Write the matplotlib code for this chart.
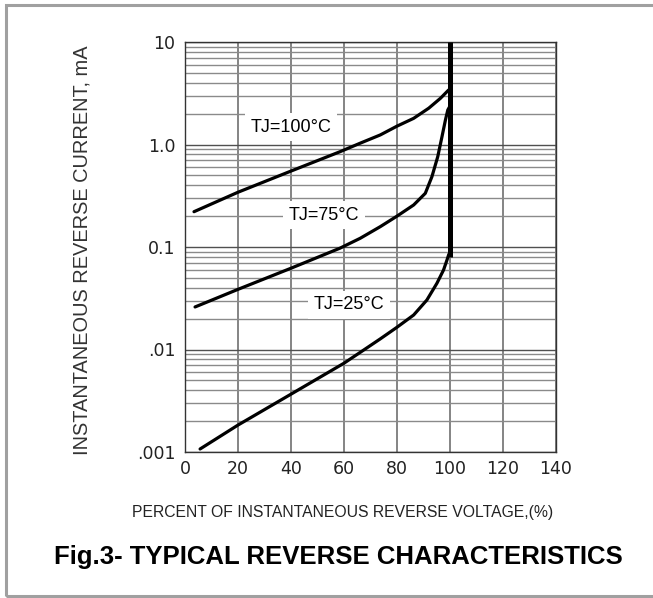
import matplotlib
matplotlib.use('Agg')
import matplotlib.pyplot as plt
from matplotlib.patches import Rectangle

# curves (percent of VR, reverse current in mA)
x_100 = [3.4, 20, 40, 58.6, 66.2, 73.8, 80.1, 86.4, 92.1, 96.5, 99.6]
i_100 = [0.221, 0.342, 0.55, 0.851, 1.03, 1.24, 1.51, 1.80, 2.26, 2.82, 3.4]

x_75 = [3.8, 20, 40, 58.6, 66.2, 73.8, 80.1, 86.4, 90.8, 93.3, 95.5, 97.1, 98.4, 99.3, 100]
i_75 = [0.026, 0.0386, 0.062, 0.0975, 0.1216, 0.158, 0.20, 0.257, 0.334, 0.485,
        0.76, 1.19, 1.73, 2.17, 2.34]

x_25 = [5.7, 20, 40, 60, 66.8, 73.8, 80.1, 86.4, 91.4, 95.2, 97.7, 99.0, 99.7]
i_25 = [0.00107, 0.00183, 0.00366, 0.00733, 0.0096, 0.0127, 0.01648, 0.0217,
        0.0304, 0.0443, 0.0597, 0.0747, 0.085]

# breakdown line at 100 %
x_bd = [100, 100]
i_bd = [0.08, 10]

x_ticks = [0, 20, 40, 60, 80, 100, 120, 140]
y_ticks = [0.001, 0.01, 0.1, 1, 10]
y_ticklabels = ['.001', '.01', '0.1', '1.0', '10']

labels = ['TJ=100°C', 'TJ=75°C', 'TJ=25°C']
label_pos = [(40.0, 1.48), (52.5, 0.205), (62.0, 0.0272)]

fig = plt.figure(figsize=(6.53, 5.98), dpi=100)
ax = fig.add_axes([185 / 653, 146 / 598, 370.5 / 653, 410 / 598])

ax.set_yscale('log')
ax.set_xlim(0, 140)
ax.set_ylim(0.001, 10)

# grid
ax.set_xticks(x_ticks)
ax.set_yticks(y_ticks)
ax.set_yticklabels(y_ticklabels)
ax.grid(True, which='major', axis='x', color='#707070', lw=1.2)
ax.grid(True, which='major', axis='y', color='#505050', lw=1.0)
ax.grid(True, which='minor', axis='y', color='#8a8a8a', lw=1.0)
ax.tick_params(which='both', length=0)
ax.tick_params(axis='x', pad=6, labelsize=12.5, labelcolor='#222222')
ax.tick_params(axis='y', pad=7, labelsize=12.5, labelcolor='#222222')
for lab in ax.get_xticklabels() + ax.get_yticklabels():
    lab.set_family('DejaVu Sans')
for sp in ax.spines.values():
    sp.set_color('#333333')
    sp.set_linewidth(1.0)

ax.plot(x_100, i_100, color='black', lw=2.3, solid_capstyle='round', zorder=3)
ax.plot(x_75, i_75, color='black', lw=2.3, solid_capstyle='round', zorder=3)
ax.plot(x_25, i_25, color='black', lw=2.3, solid_capstyle='round', zorder=3)
ax.plot(x_bd, i_bd, color='black', lw=3.6, solid_capstyle='butt', zorder=3)

for txt, (tx, ty) in zip(labels, label_pos):
    ax.text(tx, ty, txt, ha='center', va='center', fontsize=13,
            family='Liberation Sans', color='black', zorder=4,
            bbox=dict(facecolor='white', edgecolor='none', pad=4))

fig.text(82 / 653, 1 - 250 / 598, 'INSTANTANEOUS REVERSE CURRENT, mA',
         rotation=90, ha='center', va='center', fontsize=14.4,
         family='Liberation Sans', color='#333333')
fig.text(342.5 / 653, 1 - 512 / 598, 'PERCENT OF INSTANTANEOUS REVERSE VOLTAGE,(%)',
         ha='center', va='center', fontsize=11.3,
         family='Liberation Sans', color='#222222')
fig.text(338.5 / 653, 1 - 557 / 598, 'Fig.3- TYPICAL REVERSE CHARACTERISTICS',
         ha='center', va='center', fontsize=18.5, fontweight='bold',
         family='Liberation Sans', color='black')

# grey frame round the figure (right side is cut off in the reference)
fig.patches.append(Rectangle((5.5 / 653, 2.5 / 598), 1.0, 590.5 / 598,
                             transform=fig.transFigure, fill=False,
                             edgecolor='#a0a0a0', lw=2.2))

fig.savefig('out.png', dpi=100)
